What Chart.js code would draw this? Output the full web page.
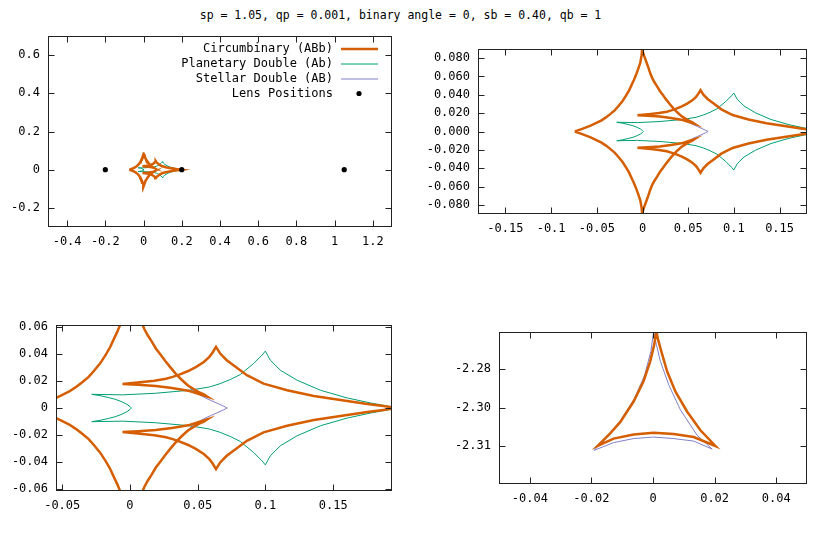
<!DOCTYPE html>
<html>
<head>
<meta charset="utf-8">
<script src="https://cdn.jsdelivr.net/npm/chart.js@4.4.1/dist/chart.umd.min.js"></script>
<style>
  body { margin: 0; background: #fff; width: 830px; height: 554px; position: relative; overflow: hidden; }
  .title { position: absolute; left: 0; top: 8px; width: 801px; text-align: center;
           font: 11.5px "DejaVu Sans Mono", monospace; color: #000; white-space: pre; }
  .panel { position: absolute; }
</style>
</head>
<body>
<div class="title">sp = 1.05, qp = 0.001, binary angle = 0, sb = 0.40, qb = 1</div>
<div class="panel" id="w1"><canvas id="c1"></canvas></div>
<div class="panel" id="w2"><canvas id="c2"></canvas></div>
<div class="panel" id="w3"><canvas id="c3"></canvas></div>
<div class="panel" id="w4"><canvas id="c4"></canvas></div>
<script>
// circumbinary (ABb) central caustic, traced round the loop from the left cusp
const cbCentralX = [
  -0.0740, -0.0660, -0.0574, -0.0510, -0.0448, -0.0400, -0.0350, -0.0305, -0.0265, -0.0220, -0.0177, -0.0145,
  -0.0116, -0.0094, -0.0074, -0.0048, -0.0024, -0.0010, -0.0003,
  0.0012, 0.0031, 0.0058, 0.0083, 0.0105, 0.0131, 0.0160, 0.0192, 0.0225, 0.0262, 0.0300, 0.0340, 0.0383,
  0.0426, 0.0470, 0.0511, 0.0545, 0.0568,
  0.0440, 0.0310, 0.0190, 0.0060, -0.0055,
  0.0092, 0.0180, 0.0266, 0.0315, 0.0364, 0.0430, 0.0489, 0.0545, 0.0586, 0.0610, 0.0635,
  0.0666, 0.0712, 0.0764, 0.0863, 0.0986, 0.1160, 0.1357, 0.1554, 0.1752, 0.1870, 0.1975,
  0.1870, 0.1752, 0.1554, 0.1357, 0.1160, 0.0986, 0.0863, 0.0764, 0.0712, 0.0666,
  0.0635, 0.0610, 0.0586, 0.0545, 0.0489, 0.0430, 0.0364, 0.0315, 0.0266, 0.0180, 0.0092,
  -0.0055, 0.0060, 0.0190, 0.0310, 0.0440,
  0.0568, 0.0545, 0.0511, 0.0470, 0.0426, 0.0383, 0.0340, 0.0300, 0.0262, 0.0225, 0.0192, 0.0160, 0.0131,
  0.0105, 0.0083, 0.0058, 0.0031, 0.0012,
  -0.0003, -0.0010, -0.0024, -0.0048, -0.0074, -0.0094, -0.0116, -0.0145, -0.0177, -0.0220, -0.0265, -0.0305,
  -0.0350, -0.0400, -0.0448, -0.0510, -0.0574, -0.0660, -0.0740];
const cbCentralY = [
  0, 0.0028, 0.0062, 0.0092, 0.0122, 0.0154, 0.0192, 0.0230, 0.0275, 0.0330, 0.0396, 0.0452,
  0.0516, 0.0562, 0.0610, 0.0680, 0.0752, 0.0830, 0.0898,
  0.0840, 0.0789, 0.0715, 0.0640, 0.0585, 0.0537, 0.0492, 0.0438, 0.0395, 0.0345, 0.0298, 0.0250, 0.0207,
  0.0168, 0.0140, 0.0116, 0.0100, 0.0085,
  0.0126, 0.0147, 0.0163, 0.0172, 0.0178,
  0.0192, 0.0202, 0.0216, 0.0230, 0.0247, 0.0273, 0.0304, 0.0340, 0.0378, 0.0410, 0.0452,
  0.0402, 0.0355, 0.0316, 0.0242, 0.0180, 0.0131, 0.0089, 0.0059, 0.0030, 0.0014, 0,
  -0.0014, -0.0030, -0.0059, -0.0089, -0.0131, -0.0180, -0.0242, -0.0316, -0.0355, -0.0402,
  -0.0452, -0.0410, -0.0378, -0.0340, -0.0304, -0.0273, -0.0247, -0.0230, -0.0216, -0.0202, -0.0192,
  -0.0178, -0.0172, -0.0163, -0.0147, -0.0126,
  -0.0085, -0.0100, -0.0116, -0.0140, -0.0168, -0.0207, -0.0250, -0.0298, -0.0345, -0.0395, -0.0438, -0.0492, -0.0537,
  -0.0585, -0.0640, -0.0715, -0.0789, -0.0840,
  -0.0898, -0.0830, -0.0752, -0.0680, -0.0610, -0.0562, -0.0516, -0.0452, -0.0396, -0.0330, -0.0275, -0.0230,
  -0.0192, -0.0154, -0.0122, -0.0092, -0.0062, -0.0028, 0];

// circumbinary (ABb) triangular caustic near y = -2.3
const cbTriX = [0.0011, 0.0004, -0.0009, -0.0031, -0.0063, -0.0106, -0.0139, -0.0180,
  -0.0128, -0.0063, 0.0002, 0.0067, 0.0132, 0.0203,
  0.0154, 0.0111, 0.0073, 0.0046, 0.0027, 0.0015, 0.0011];
const cbTriY = [-2.2700, -2.2746, -2.2800, -2.2865, -2.2930, -2.2996, -2.3033, -2.3074,
  -2.3050, -2.3037, -2.3031, -2.3035, -2.3045, -2.3074,
  -2.3023, -2.2963, -2.2898, -2.2833, -2.2768, -2.2724, -2.2700];

// planetary double (Ab)
const pdX = [-0.0282, -0.0215, -0.0158, -0.0104, -0.0058, -0.0022, 0.0000, 0.0010,
  0.0000, -0.0022, -0.0058, -0.0104, -0.0158, -0.0215, -0.0282,
  -0.0055, 0.0191, 0.0438, 0.0586, 0.0666, 0.0740, 0.0814, 0.0912, 0.0974, 0.0999,
  0.1036, 0.1110, 0.1234, 0.1406, 0.1604, 0.1777, 0.1890, 0.1975,
  0.1890, 0.1777, 0.1604, 0.1406, 0.1234, 0.1110, 0.1036,
  0.0999, 0.0974, 0.0912, 0.0814, 0.0740, 0.0666, 0.0586, 0.0438, 0.0191, -0.0055, -0.0282];
const pdY = [0.0101, 0.0090, 0.0077, 0.0063, 0.0045, 0.0027, 0.0011, 0,
  -0.0011, -0.0027, -0.0045, -0.0063, -0.0077, -0.0090, -0.0101,
  -0.0097, -0.0109, -0.0131, -0.0155, -0.0180, -0.0210, -0.0247, -0.0328, -0.0390, -0.0420,
  -0.0353, -0.0279, -0.0205, -0.0131, -0.0074, -0.0037, -0.0016, 0,
  0.0016, 0.0037, 0.0074, 0.0131, 0.0205, 0.0279, 0.0353,
  0.0420, 0.0390, 0.0328, 0.0247, 0.0210, 0.0180, 0.0155, 0.0131, 0.0109, 0.0097, 0.0101];

// stellar double (AB) central caustic
const sdCentralX = [
  -0.0740, -0.0660, -0.0574, -0.0510, -0.0448, -0.0400, -0.0350, -0.0305, -0.0265, -0.0220, -0.0177, -0.0145,
  -0.0116, -0.0094, -0.0074, -0.0048, -0.0024, -0.0010, -0.0003,
  0.0012, 0.0031, 0.0058, 0.0083, 0.0105, 0.0131, 0.0160, 0.0192, 0.0225, 0.0262, 0.0300, 0.0340,
  0.0400, 0.0452, 0.0510, 0.0560, 0.0600, 0.0650, 0.0690, 0.0718,
  0.0690, 0.0650, 0.0600, 0.0560, 0.0510, 0.0452, 0.0400,
  0.0340, 0.0300, 0.0262, 0.0225, 0.0192, 0.0160, 0.0131, 0.0105, 0.0083, 0.0058, 0.0031, 0.0012,
  -0.0003, -0.0010, -0.0024, -0.0048, -0.0074, -0.0094, -0.0116, -0.0145, -0.0177, -0.0220, -0.0265, -0.0305,
  -0.0350, -0.0400, -0.0448, -0.0510, -0.0574, -0.0660, -0.0740];
const sdCentralY = [
  0, 0.0028, 0.0062, 0.0092, 0.0122, 0.0154, 0.0192, 0.0230, 0.0275, 0.0330, 0.0396, 0.0452,
  0.0516, 0.0562, 0.0610, 0.0680, 0.0752, 0.0830, 0.0898,
  0.0840, 0.0789, 0.0715, 0.0640, 0.0585, 0.0537, 0.0492, 0.0438, 0.0395, 0.0345, 0.0298, 0.0250,
  0.0185, 0.0140, 0.0100, 0.0072, 0.0055, 0.0032, 0.0014, 0,
  -0.0014, -0.0032, -0.0055, -0.0072, -0.0100, -0.0140, -0.0185,
  -0.0250, -0.0298, -0.0345, -0.0395, -0.0438, -0.0492, -0.0537, -0.0585, -0.0640, -0.0715, -0.0789, -0.0840,
  -0.0898, -0.0830, -0.0752, -0.0680, -0.0610, -0.0562, -0.0516, -0.0452, -0.0396, -0.0330, -0.0275, -0.0230,
  -0.0192, -0.0154, -0.0122, -0.0092, -0.0062, -0.0028, 0];

// stellar double (AB) triangular caustic
const sdTriX = [0.0002, 0.0011, 0.0024, 0.0051, 0.0089, 0.0143, 0.0192,
  0.0132, 0.0067, 0.0002, -0.0063, -0.0128, -0.0191,
  -0.0145, -0.0108, -0.0060, -0.0027, -0.0007, 0.0002];
const sdTriY = [-2.2703, -2.2746, -2.2800, -2.2876, -2.2957, -2.3039, -2.3084,
  -2.3058, -2.3050, -2.3045, -2.3050, -2.3063, -2.3088,
  -2.3040, -2.2995, -2.2920, -2.2844, -2.2768, -2.2703];

// lens positions
const lensX = [-0.2, 0.2, 1.05];
const lensY = [0, 0, 0];

// axis ticks per panel
const p1XTicks = [-0.4, -0.2, 0, 0.2, 0.4, 0.6, 0.8, 1, 1.2];
const p1XLabels = ['-0.4', '-0.2', '0', '0.2', '0.4', '0.6', '0.8', '1', '1.2'];
const p1YTicks = [-0.2, 0, 0.2, 0.4, 0.6];
const p1YLabels = ['-0.2', '0', '0.2', '0.4', '0.6'];
const p2XTicks = [-0.15, -0.1, -0.05, 0, 0.05, 0.1, 0.15];
const p2XLabels = ['-0.15', '-0.1', '-0.05', '0', '0.05', '0.1', '0.15'];
const p2YTicks = [-0.08, -0.06, -0.04, -0.02, 0, 0.02, 0.04, 0.06, 0.08];
const p2YLabels = ['-0.080', '-0.060', '-0.040', '-0.020', '0.000', '0.020', '0.040', '0.060', '0.080'];
const p3XTicks = [-0.05, 0, 0.05, 0.1, 0.15];
const p3XLabels = ['-0.05', '0', '0.05', '0.1', '0.15'];
const p3YTicks = [-0.06, -0.04, -0.02, 0, 0.02, 0.04, 0.06];
const p3YLabels = ['-0.06', '-0.04', '-0.02', '0', '0.02', '0.04', '0.06'];
const p4XTicks = [-0.04, -0.02, 0, 0.02, 0.04];
const p4XLabels = ['-0.04', '-0.02', '0', '0.02', '0.04'];
const p4YTicks = [-2.3075, -2.295, -2.2825];
const p4YLabels = ['-2.31', '-2.30', '-2.28'];

const pts = (xs, ys) => xs.map((x, i) => ({ x, y: ys[i] }));

Chart.defaults.font.family = '"DejaVu Sans Mono", monospace';
Chart.defaults.font.size = 12;
Chart.defaults.color = '#000';

const ORANGE = '#d55e00', GREEN = '#009e73', LAVENDER = '#8080c8';

function makeDatasets(withLens) {
  const line = (label, data, color, width, order, inLegend) => ({
    label, data, showLine: true, borderColor: color, backgroundColor: color,
    borderWidth: width, pointRadius: 0, tension: 0, clip: 0, order, inLegend
  });
  const ds = [
    line('Circumbinary (ABb)', pts(cbCentralX, cbCentralY), ORANGE, 2.5, 1, true),
    line('Planetary Double (Ab)', pts(pdX, pdY), GREEN, 1, 2, true),
    line('Stellar Double (AB)', pts(sdCentralX, sdCentralY), LAVENDER, 1, 3, true),
    line('Circumbinary (ABb)', pts(cbTriX, cbTriY), ORANGE, 2.5, 1, false),
    line('Stellar Double (AB)', pts(sdTriX, sdTriY), LAVENDER, 1, 3, false)
  ];
  if (withLens) {
    ds.push({ label: 'Lens Positions', data: pts(lensX, lensY), showLine: false,
      pointRadius: 2.6, pointBackgroundColor: '#000', pointBorderWidth: 0,
      borderColor: '#000', backgroundColor: '#000', clip: 0, order: 0, inLegend: true });
  }
  return ds;
}

// gnuplot-like frame with inward ticks on all four sides
const framePlugin = {
  id: 'frame',
  afterDraw(chart) {
    const { ctx, chartArea: a, scales } = chart;
    const L = Math.round(a.left) + 0.5, R = Math.round(a.right) - 0.5;
    const T = Math.round(a.top) + 0.5, B = Math.round(a.bottom) - 0.5;
    ctx.save();
    ctx.strokeStyle = '#222';
    ctx.lineWidth = 1;
    ctx.strokeRect(L, T, R - L, B - T);
    ctx.beginPath();
    scales.x.ticks.forEach(t => {
      const p = Math.round(scales.x.getPixelForValue(t.value)) + 0.5;
      ctx.moveTo(p, B); ctx.lineTo(p, B - 6);
      ctx.moveTo(p, T); ctx.lineTo(p, T + 6);
    });
    scales.y.ticks.forEach(t => {
      const p = Math.round(scales.y.getPixelForValue(t.value)) + 0.5;
      ctx.moveTo(L, p); ctx.lineTo(L + 6, p);
      ctx.moveTo(R, p); ctx.lineTo(R - 6, p);
    });
    ctx.stroke();
    ctx.restore();
  }
};

// key in the top right corner, text right-aligned with the sample after it
const keyPlugin = {
  id: 'key',
  afterDraw(chart, args, opts) {
    if (!opts.show) return;
    const { ctx, chartArea: a } = chart;
    const items = chart.data.datasets.filter(d => d.inLegend);
    ctx.save();
    ctx.font = '12px "DejaVu Sans Mono", monospace';
    ctx.textAlign = 'right';
    ctx.textBaseline = 'middle';
    items.forEach((d, i) => {
      const y = a.top + 12.5 + 15 * i;
      ctx.fillStyle = '#000';
      ctx.fillText(d.label, a.right - 59, y);
      if (d.showLine) {
        ctx.strokeStyle = d.borderColor;
        ctx.lineWidth = d.borderWidth;
        ctx.beginPath();
        ctx.moveTo(a.right - 51, Math.round(y));
        ctx.lineTo(a.right - 14, Math.round(y));
        ctx.stroke();
      } else {
        ctx.fillStyle = '#000';
        ctx.beginPath();
        ctx.arc(a.right - 33, y, 2.6, 0, Math.PI * 2);
        ctx.fill();
      }
    });
    ctx.restore();
  }
};

const panels = [
  { id: 1, l: 48, r: 392, t: 36, b: 227, yW: 48, xMin: -0.5, xMax: 1.3, yMin: -0.3, yMax: 0.7,
    xt: p1XTicks, xl: p1XLabels, yt: p1YTicks, yl: p1YLabels, lens: true },
  { id: 2, l: 478, r: 807, t: 49, b: 214, yW: 60, xMin: -0.18, xMax: 0.18, yMin: -0.09, yMax: 0.09,
    xt: p2XTicks, xl: p2XLabels, yt: p2YTicks, yl: p2YLabels, lens: false },
  { id: 3, l: 56, r: 392, t: 325, b: 491, yW: 56, xMin: -0.0546, xMax: 0.1934, yMin: -0.0613, yMax: 0.0613,
    xt: p3XTicks, xl: p3XLabels, yt: p3YTicks, yl: p3YLabels, lens: false },
  { id: 4, l: 499, r: 807, t: 332, b: 484, yW: 60, xMin: -0.05, xMax: 0.05, yMin: -2.3197, yMax: -2.2705,
    xt: p4XTicks, xl: p4XLabels, yt: p4YTicks, yl: p4YLabels, lens: false }
];

const padTop = 16, padRight = 12, xH = 30;

panels.forEach(p => {
  const w = p.yW + (p.r - p.l) + padRight;
  const h = padTop + (p.b - p.t) + xH;
  const wrap = document.getElementById('w' + p.id);
  wrap.style.left = (p.l - p.yW) + 'px';
  wrap.style.top = (p.t - padTop) + 'px';
  const canvas = document.getElementById('c' + p.id);
  canvas.width = w;
  canvas.height = h;
  canvas.style.width = w + 'px';
  canvas.style.height = h + 'px';

  new Chart(canvas, {
    type: 'scatter',
    data: { datasets: makeDatasets(p.lens) },
    options: {
      responsive: false,
      animation: false,
      events: [],
      layout: { padding: { left: 0, top: padTop, right: padRight, bottom: 0 } },
      plugins: {
        legend: { display: false },
        tooltip: { enabled: false },
        key: { show: p.lens }
      },
      scales: {
        x: {
          type: 'linear', min: p.xMin, max: p.xMax,
          grid: { display: false, drawTicks: false },
          border: { display: false },
          afterBuildTicks: s => { s.ticks = p.xt.map(v => ({ value: v })); },
          afterFit: s => { s.height = xH; },
          ticks: { autoSkip: false, maxRotation: 0, padding: 8, color: '#000',
                   callback: (v, i) => p.xl[i] }
        },
        y: {
          type: 'linear', min: p.yMin, max: p.yMax,
          grid: { display: false, drawTicks: false },
          border: { display: false },
          afterBuildTicks: s => { s.ticks = p.yt.map(v => ({ value: v })); },
          afterFit: s => { s.width = p.yW; },
          ticks: { autoSkip: false, padding: 8, color: '#000',
                   callback: (v, i) => p.yl[i] }
        }
      }
    },
    plugins: [framePlugin, keyPlugin]
  });
});
</script>
</body>
</html>
